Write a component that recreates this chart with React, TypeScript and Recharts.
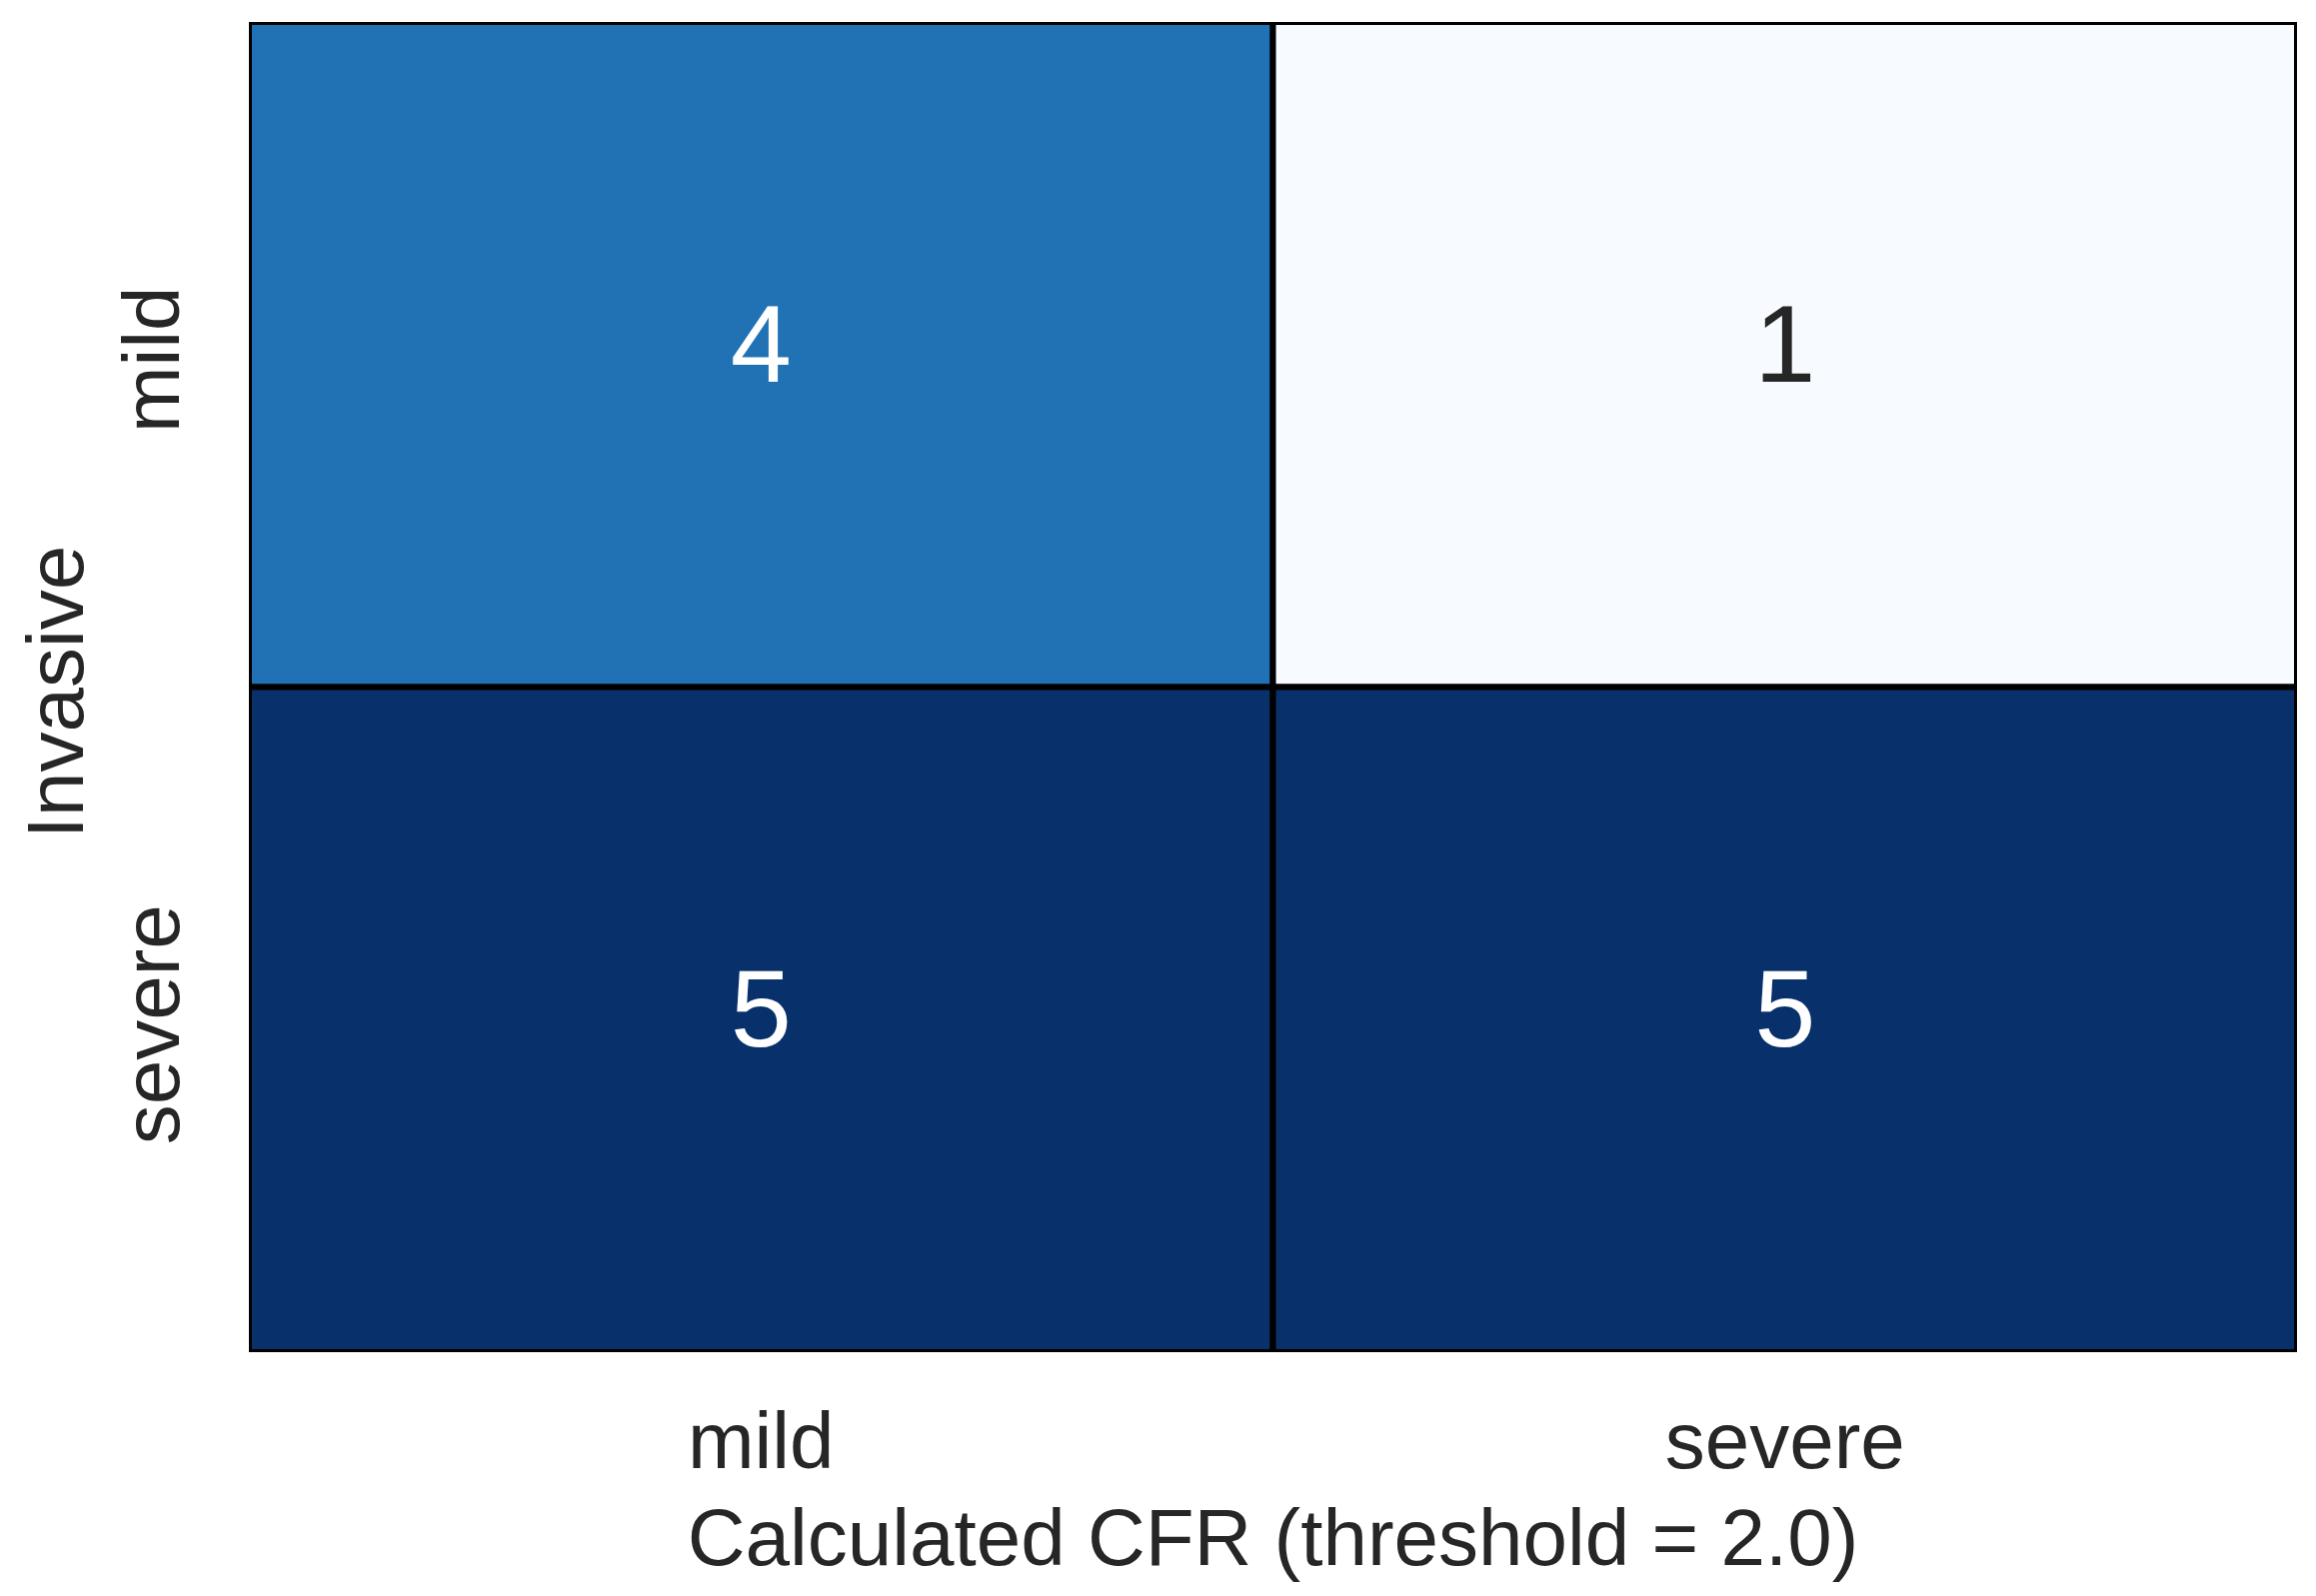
import React from 'react';
import { ScatterChart, XAxis, YAxis, Scatter, ReferenceArea } from 'recharts';

const COL_LABELS = ['mild', 'severe'];
const ROW_LABELS = ['mild', 'severe'];
const MILD_ROW = [4, 1];
const SEVERE_ROW = [5, 5];
const TICK_POSITIONS = [0.5, 1.5];
const X_TITLE = 'Calculated CFR (threshold = 2.0)';
const Y_TITLE = 'Invasive';

const ROWS = [MILD_ROW, SEVERE_ROW];
const FONT = '"Liberation Sans", Arial, Helvetica, sans-serif';
const TEXT = '#262626';

const BLUES = ['#f7fbff', '#deebf7', '#c6dbef', '#9ecae1', '#6baed6', '#4292c6', '#2171b5', '#08519c', '#08306b'];

const hexToRgb = (h: string) => [1, 3, 5].map((i) => parseInt(h.slice(i, i + 2), 16));
const blues = (t: number) => {
  const c = Math.max(0, Math.min(1, t)) * (BLUES.length - 1);
  const i = Math.min(Math.floor(c), BLUES.length - 2);
  const f = c - i;
  const a = hexToRgb(BLUES[i]);
  const b = hexToRgb(BLUES[i + 1]);
  const m = a.map((v, k) => Math.round(v + (b[k] - v) * f));
  return `rgb(${m[0]},${m[1]},${m[2]})`;
};

const allValues = ROWS.flat();
const vmin = Math.min(...allValues);
const vmax = Math.max(...allValues);

const cells = ROWS.flatMap((row, r) =>
  row.map((value, c) => ({
    x: c + 0.5,
    y: r + 0.5,
    col: c,
    row: r,
    value,
    t: (value - vmin) / (vmax - vmin),
  }))
);

const XTick = (props: any) => {
  const { x, y, payload } = props;
  return (
    <text x={x} y={y + 116} textAnchor="middle" fontSize={80} fill={TEXT} fontFamily={FONT}>
      {COL_LABELS[Math.floor(payload.value)]}
    </text>
  );
};

const YTick = (props: any) => {
  const { x, y, payload } = props;
  const tx = x - 70;
  const ty = y + 5;
  return (
    <text x={tx} y={ty} transform={`rotate(-90, ${tx}, ${ty})`} textAnchor="middle" fontSize={80} fill={TEXT} fontFamily={FONT}>
      {ROW_LABELS[Math.floor(payload.value)]}
    </text>
  );
};

export default function App() {
  return (
    <div style={{ margin: -8, width: 2317, height: 1597, background: '#fff' }}>
      <ScatterChart width={2317} height={1597} margin={{ top: 22, right: 19, bottom: 0, left: 0 }}>
        <XAxis
          dataKey="x"
          type="number"
          domain={[0, 2]}
          ticks={TICK_POSITIONS}
          interval={0}
          tick={<XTick />}
          tickLine={false}
          axisLine={false}
          tickSize={0}
          tickMargin={0}
          height={244}
          allowDataOverflow
          label={{
            content: (p: any) => {
              const vb = p.viewBox;
              return (
                <text x={vb.x + vb.width / 2} y={vb.y + 213} textAnchor="middle" fontSize={80} fill={TEXT} fontFamily={FONT}>
                  {X_TITLE}
                </text>
              );
            },
          }}
        />
        <YAxis
          dataKey="y"
          type="number"
          domain={[0, 2]}
          reversed
          ticks={TICK_POSITIONS}
          interval={0}
          tick={<YTick />}
          tickLine={false}
          axisLine={false}
          tickSize={0}
          tickMargin={0}
          width={249}
          allowDataOverflow
          label={{
            content: (p: any) => {
              const vb = p.viewBox;
              const tx = vb.x + 83;
              const ty = vb.y + vb.height / 2 + 5;
              return (
                <text x={tx} y={ty} transform={`rotate(-90, ${tx}, ${ty})`} textAnchor="middle" fontSize={80} fill={TEXT} fontFamily={FONT}>
                  {Y_TITLE}
                </text>
              );
            },
          }}
        />
        {cells.map((cell) => (
          <ReferenceArea
            key={`${cell.row}-${cell.col}`}
            x1={cell.col}
            x2={cell.col + 1}
            y1={cell.row}
            y2={cell.row + 1}
            fill={blues(cell.t)}
            fillOpacity={1}
            stroke="#000"
            strokeWidth={6}
            strokeOpacity={1}
            ifOverflow="hidden"
            label={{
              content: (p: any) => {
                const vb = p.viewBox;
                return (
                  <text
                    x={vb.x + vb.width / 2}
                    y={vb.y + vb.height / 2 + 27}
                    textAnchor="middle"
                    fontSize={110}
                    fill={cell.t < 0.5 ? TEXT : '#ffffff'}
                    fontFamily={FONT}
                  >
                    {cell.value}
                  </text>
                );
              },
            }}
          />
        ))}
        <Scatter data={cells} isAnimationActive={false} shape={() => <g />} />
      </ScatterChart>
    </div>
  );
}
